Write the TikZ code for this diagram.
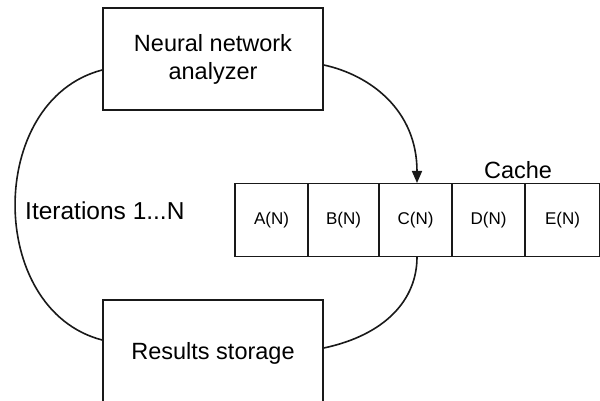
\documentclass[tikz,border=0pt]{standalone}
\usepackage{fontspec}
\setmainfont{Liberation Sans}
\usetikzlibrary{arrows.meta}
\begin{document}
\begin{tikzpicture}[x=1pt,y=-1pt,
  box/.style={draw=black!90, line width=1.6pt, inner sep=0pt, font=\fontsize{23.5}{28}\selectfont, align=center},
  cell/.style={draw=black!90, line width=1.6pt, inner sep=0pt, minimum height=73pt, font=\fontsize{17}{20}\selectfont},
  conn/.style={draw=black!90, line width=1.6pt},
  lbl/.style={font=\fontsize{23.5}{28}\selectfont, inner sep=0pt}]
\useasboundingbox[fill=white] (0,0) rectangle (600,401);
\node[box, minimum width=220pt, minimum height=102pt] (nna) at (213,59) {Neural network\\analyzer};
\node[box, minimum width=220pt, minimum height=106pt] (rs) at (213,353) {Results storage};
\node[cell, minimum width=73pt] (A) at (271.5,220) {A(N)};
\node[cell, minimum width=71pt] (B) at (343.5,220) {B(N)};
\node[cell, minimum width=73pt] (C) at (415.5,220) {C(N)};
\node[cell, minimum width=73pt] (D) at (488.5,220) {D(N)};
\node[cell, minimum width=75pt] (E) at (562.5,220) {E(N)};
\node[lbl] (cache) at (518,170) {Cache};
\node[lbl, anchor=west, font=\fontsize{24.5}{28}\selectfont] (iter) at (25,211) {Iterations 1...N};
\coordinate (c1) at (nna.east |- 0,65);
\coordinate (c2) at (417,183);
\coordinate (l1) at (nna.west |- 0,70);
\coordinate (l2) at (rs.west |- 0,340);
\coordinate (r1) at (417,257);
\coordinate (r2) at (rs.east |- 0,348);
\draw[conn, -{Triangle[length=12pt,width=10pt]}] (c1) .. controls (370,75) and (417,110) .. (c2);
\draw[conn] (l1) .. controls (-14,100) and (-14,310) .. (l2);
\draw[conn] (r1) .. controls (417,300) and (385,335) .. (r2);
\end{tikzpicture}
\end{document}
